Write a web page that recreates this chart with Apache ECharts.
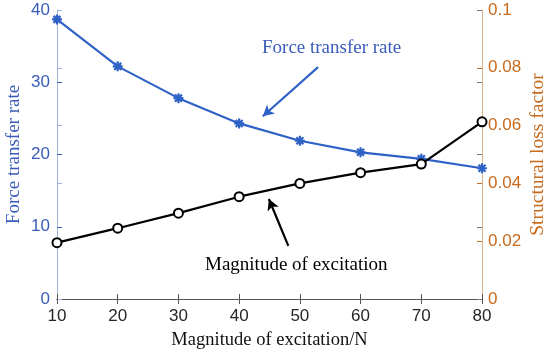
<!DOCTYPE html>
<html><head><meta charset="utf-8">
<script src="https://cdn.jsdelivr.net/npm/echarts@6/dist/echarts.min.js"></script>
<style>html,body{margin:0;padding:0;background:#fff}#c{width:550px;height:353px}</style>
</head><body><div id="c"></div>
<script>
const excitation = [10, 20, 30, 40, 50, 60, 70, 80];
const forceTransferRate = [38.7, 32.2, 27.8, 24.3, 21.9, 20.3, 19.4, 18.1];
const structuralLossFactor = [0.0195, 0.0245, 0.0297, 0.0354, 0.0400, 0.0437, 0.0467, 0.0613];
const leftTicks = [0, 10, 20, 30, 40];
const rightTicks = [0, 0.02, 0.04, 0.06, 0.08, 0.1];

const BLUE = '#2f62c6';
const BLUE_LBL = '#3a5cb8';
const ORANGE = '#c86a1c';
const serif = '"Liberation Serif", "Times New Roman", serif';
const sans = '"Liberation Sans", Arial, sans-serif';

const chart = echarts.init(document.getElementById('c'));
const asterisk = 'path://M0 5 L10 5 M5 0 L5 10 M1.5 1.5 L8.5 8.5 M8.5 1.5 L1.5 8.5';

chart.setOption({
  animation: false,
  grid: {left: 57, right: 68, top: 10, bottom: 54, containLabel: false, outerBoundsMode: 'none'},
  xAxis: [{
    type: 'value', min: 10, max: 80, interval: 10, position: 'bottom',
    name: 'Magnitude of excitation/N', nameLocation: 'middle', nameGap: 32, nameMoveOverlap: false,
    nameTextStyle: {fontFamily: serif, fontSize: 18.5, color: '#111'},
    axisLine: {show: true, lineStyle: {color: '#555', width: 1}},
    axisTick: {show: true, inside: true, length: 5, lineStyle: {color: '#555'}},
    axisLabel: {fontFamily: sans, fontSize: 17, color: '#262626', margin: 9},
    splitLine: {show: false}
  }, {
    type: 'value', min: 10, max: 80, interval: 10, position: 'top',
    axisLine: {show: true, lineStyle: {color: '#555', width: 1}},
    axisTick: {show: true, inside: true, length: 5, lineStyle: {color: '#555'}},
    axisLabel: {show: false}, splitLine: {show: false}
  }],
  yAxis: [{
    type: 'value', min: leftTicks[0], max: leftTicks[leftTicks.length - 1], interval: 10, position: 'left',
    name: 'Force transfer rate', nameLocation: 'middle', nameGap: 33, nameMoveOverlap: false,
    nameTextStyle: {fontFamily: serif, fontSize: 19, color: BLUE_LBL},
    axisLine: {show: true, lineStyle: {color: '#9fb3e0', width: 1}},
    axisTick: {show: true, inside: true, length: 5, lineStyle: {color: BLUE_LBL}},
    axisLabel: {fontFamily: sans, fontSize: 17, color: BLUE_LBL, margin: 7},
    splitLine: {show: false}
  }, {
    type: 'value', min: rightTicks[0], max: rightTicks[rightTicks.length - 1], interval: 0.02, position: 'right',
    name: 'Structural loss factor', nameLocation: 'middle', nameGap: 46, nameMoveOverlap: false,
    nameRotate: 90,
    nameTextStyle: {fontFamily: serif, fontSize: 19.5, color: ORANGE},
    axisLine: {show: true, lineStyle: {color: '#d9b48a', width: 1}},
    axisTick: {show: true, inside: true, length: 5, lineStyle: {color: ORANGE}},
    axisLabel: {fontFamily: sans, fontSize: 17, color: ORANGE, margin: 6,
      formatter: v => String(+v.toFixed(2))},
    splitLine: {show: false}
  }, {
    type: 'value', min: leftTicks[0], max: leftTicks[leftTicks.length - 1], interval: 10, position: 'right',
    axisLine: {show: false},
    axisTick: {show: true, inside: true, length: 5, lineStyle: {color: '#777'}},
    axisLabel: {show: false}, splitLine: {show: false}
  }, {
    type: 'value', min: rightTicks[0], max: rightTicks[rightTicks.length - 1], interval: 0.02, position: 'left',
    axisLine: {show: false},
    axisTick: {show: true, inside: true, length: 5, lineStyle: {color: '#9fb3e0'}},
    axisLabel: {show: false}, splitLine: {show: false}
  }],
  series: [{
    name: 'Force transfer rate', type: 'line', xAxisIndex: 0, yAxisIndex: 0,
    data: excitation.map((x, i) => [x, forceTransferRate[i]]),
    lineStyle: {color: BLUE, width: 2.2},
    symbol: asterisk, symbolSize: 10,
    itemStyle: {color: BLUE, borderColor: BLUE, borderWidth: 2.2},
    z: 3,
    markLine: {
      silent: true, symbol: ['none', 'arrow'], symbolSize: [9, 11],
      label: {show: false},
      lineStyle: {color: BLUE, width: 2.2, type: 'solid'},
      data: [[{coord: [53.0, 32.1]}, {coord: [43.9, 25.3]}]]
    }
  }, {
    name: 'Structural loss factor', type: 'line', xAxisIndex: 0, yAxisIndex: 1,
    data: excitation.map((x, i) => [x, structuralLossFactor[i]]),
    lineStyle: {color: '#000', width: 2.2},
    symbol: 'emptyCircle', symbolSize: 9,
    itemStyle: {color: '#000', borderColor: '#000', borderWidth: 2},
    z: 4,
    markLine: {
      silent: true, symbol: ['none', 'arrow'], symbolSize: [9, 11],
      label: {show: false},
      lineStyle: {color: '#000', width: 2.2, type: 'solid'},
      data: [[{coord: [48.1, 0.0184]}, {coord: [44.9, 0.0346]}]]
    }
  }],
  graphic: [{
    type: 'text', left: 262, top: 39,
    style: {text: 'Force transfer rate', fontFamily: serif, fontSize: 19, fill: BLUE_LBL}
  }, {
    type: 'text', left: 205, top: 256,
    style: {text: 'Magnitude of excitation', fontFamily: serif, fontSize: 19, fill: '#000'}
  }]
});
</script></body></html>
